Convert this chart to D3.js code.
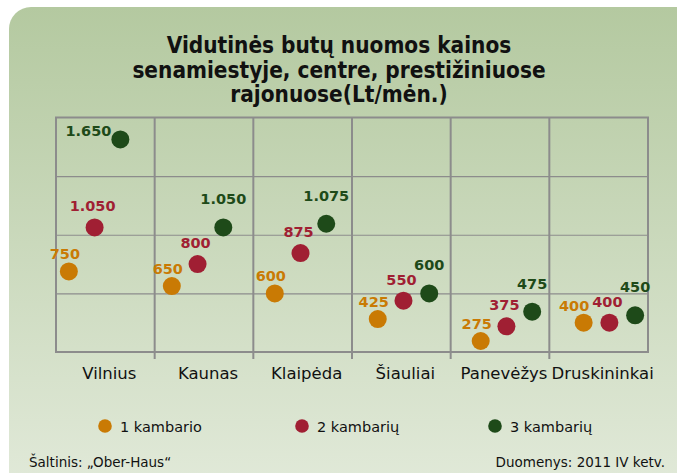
<!DOCTYPE html>
<html>
<head>
<meta charset="utf-8">
<script src="https://d3js.org/d3.v7.min.js"></script>
<style>
  body { margin: 0; background: #fff; }
  svg { display: block; }
</style>
</head>
<body>
<svg width="677" height="473"></svg>
<script>
// chart data
var cities = ["Vilnius", "Kaunas", "Klaipėda", "Šiauliai", "Panevėžys", "Druskininkai"];
var oneRoom = [750, 650, 600, 425, 275, 400];
var twoRoom = [1050, 800, 875, 550, 375, 400];
var threeRoom = [1650, 1050, 1075, 600, 475, 450];
var seriesNames = ["1 kambario", "2 kambarių", "3 kambarių"];
var yTicks = [200, 600, 1000, 1400, 1800];
var titleLines = ["Vidutinės butų nuomos kainos", "senamiestyje, centre, prestižiniuose", "rajonuose(Lt/mėn.)"];

var colors = ["#c97a04", "#a01f33", "#1e4a19"];
var labelDx = [-4, -2, 0], labelDy = [12, 16, 23];

var svg = d3.select("svg");

// background panel
var defs = svg.append("defs");
var grad = defs.append("linearGradient").attr("id", "bg")
    .attr("x1", 0).attr("y1", 0).attr("x2", 0).attr("y2", 1);
grad.append("stop").attr("offset", "0%").attr("stop-color", "#b4c9a0");
grad.append("stop").attr("offset", "100%").attr("stop-color", "#e2eada");
svg.append("rect")
    .attr("x", 9).attr("y", 7).attr("width", 700).attr("height", 490)
    .attr("rx", 22).attr("fill", "url(#bg)");

// title
svg.append("text")
    .attr("text-anchor", "middle")
    .style("font-family", "'DejaVu Sans Condensed', 'DejaVu Sans', sans-serif")
    .style("font-weight", "bold")
    .style("font-size", "22.4px")
    .style("fill", "#111")
    .selectAll("tspan").data(titleLines).enter().append("tspan")
    .attr("x", 339)
    .attr("y", function(d, i) { return 53 + i * 24.5; })
    .text(function(d) { return d; });

var margin = {top: 117.5, left: 56},
    width = 592, height = 234.5;

var g = svg.append("g")
    .attr("transform", "translate(" + margin.left + "," + margin.top + ")");

var x = d3.scaleBand().domain(cities).range([0, width]);
var y = d3.scaleLinear().domain([yTicks[0], yTicks[yTicks.length - 1]]).range([height, 0]);
// dots sit on 4 slots per city (3 series + gap)
var slot = d3.scaleBand().domain(d3.range(cities.length * 4 - 1)).range([0, width]);

// horizontal gridlines
g.append("g")
    .call(d3.axisLeft(y).tickValues(yTicks.slice(1, -1)).tickSize(-width).tickFormat(""))
    .call(function(a) {
        a.select(".domain").remove();
        a.selectAll("line").attr("stroke", "#8c8c8c").attr("stroke-width", 1.2);
    });

// vertical category separators with ticks
g.selectAll(".sep")
    .data(cities.slice(1))
    .enter().append("line")
    .attr("x1", function(d) { return x(d); })
    .attr("x2", function(d) { return x(d); })
    .attr("y1", 0).attr("y2", height + 7)
    .attr("stroke", "#8c8c8c").attr("stroke-width", 2);

g.append("rect")
    .attr("width", width).attr("height", height)
    .attr("fill", "none").attr("stroke", "#8c8c8c").attr("stroke-width", 2);

// category labels
g.append("g")
    .attr("transform", "translate(0," + height + ")")
    .call(d3.axisBottom(x).tickSize(0).tickPadding(15))
    .call(function(a) {
        a.select(".domain").remove();
        a.selectAll("text")
            .attr("dx", 4)
            .style("font-family", "'DejaVu Sans', sans-serif")
            .style("font-size", "16.5px")
            .style("fill", "#111");
    });

// points
var data = [];
[oneRoom, twoRoom, threeRoom].forEach(function(vals, si) {
    vals.forEach(function(v, ci) {
        data.push({s: si, c: ci, v: v});
    });
});

var r = 9;
function cx(d) { return slot(d.c * 4 + d.s) + slot.bandwidth() / 2; }

g.selectAll(".dot").data(data).enter().append("circle")
    .attr("cx", cx)
    .attr("cy", function(d) { return y(d.v); })
    .attr("r", r)
    .attr("fill", function(d) { return colors[d.s]; });

var labels = g.selectAll(".lbl").data(data).enter().append("text")
    .each(function(d) {
        var t = d3.select(this);
        var px = cx(d), py = y(d.v);
        if (py - labelDy[d.s] - 11 < 0) {
            // no room above: put it to the left
            t.attr("x", px - r).attr("y", py - 3).attr("text-anchor", "end");
        } else {
            t.attr("x", px + labelDx[d.s]).attr("y", py - labelDy[d.s]).attr("text-anchor", "middle");
        }
    })
    .style("font-family", "'DejaVu Sans', sans-serif")
    .style("font-weight", "bold")
    .style("font-size", "14.5px")
    .style("fill", function(d) { return colors[d.s]; })
    .text(function(d) { return d3.format(",")(d.v).replace(/,/g, "."); });

// push 1-room labels left if they collide with the 2-room label of the same city
labels.filter(function(d) { return d.s === 0; }).each(function(d) {
    var me = this, b1 = me.getBBox();
    labels.filter(function(o) { return o.s === 1 && o.c === d.c; }).each(function() {
        var b2 = this.getBBox();
        var overlapX = b1.x + b1.width + 3 - b2.x;
        var overlapY = b1.y < b2.y + b2.height && b2.y < b1.y + b1.height;
        if (overlapX > 0 && overlapY) {
            d3.select(me).attr("x", +d3.select(me).attr("x") - overlapX);
        }
    });
});

// legend
var leg = svg.append("g").selectAll("g").data(seriesNames).enter().append("g")
    .attr("transform", function(d, i) { return "translate(" + [105, 302, 495][i] + ",426)"; });
leg.append("circle").attr("r", 6.8).attr("fill", function(d, i) { return colors[i]; });
leg.append("text")
    .attr("x", 15).attr("y", 5.5)
    .style("font-family", "'DejaVu Sans', sans-serif")
    .style("font-size", "14.5px")
    .style("fill", "#111")
    .text(function(d) { return d; });

// footer
var foot = svg.append("g")
    .style("font-family", "'DejaVu Sans', sans-serif")
    .style("font-size", "13.5px")
    .style("fill", "#111");
foot.append("text").attr("x", 29).attr("y", 467).text("Šaltinis: „Ober-Haus“");
foot.append("text").attr("x", 665).attr("y", 467).attr("text-anchor", "end").text("Duomenys: 2011 IV ketv.");
</script>
</body>
</html>
